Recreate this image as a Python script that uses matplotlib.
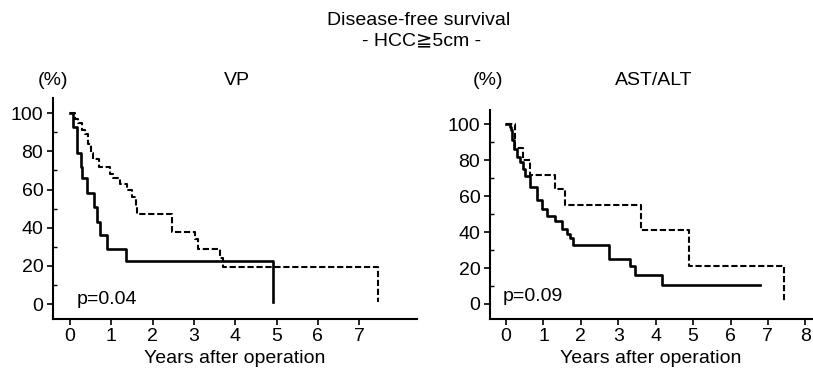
import matplotlib.pyplot as plt
from matplotlib.ticker import MultipleLocator

plt.rcParams['font.family'] = ['Liberation Sans', 'DejaVu Sans', 'Noto Sans CJK JP']

# VP panel
vp_solid_t = [0, 0.065, 0.16, 0.26, 0.28, 0.42, 0.58, 0.65, 0.73, 0.90, 1.36, 4.92]
vp_solid_s = [100, 93, 79, 72, 66, 58, 51, 43, 36, 29, 22.5, 1]
vp_dash_t = [0, 0.12, 0.20, 0.28, 0.36, 0.44, 0.50, 0.56, 0.71, 0.97, 1.05, 1.21,
             1.37, 1.49, 1.61, 1.63, 2.46, 3.03, 3.11, 3.63, 3.71, 7.45]
vp_dash_s = [100, 97, 95, 91, 89, 84, 79, 76, 72, 68, 66, 63,
             60, 56, 51, 47, 38, 34, 29, 24, 19.6, 1]

# AST/ALT panel
ast_solid_t = [0, 0.11, 0.14, 0.17, 0.22, 0.29, 0.37, 0.45, 0.51, 0.64, 0.82, 0.95,
               1.09, 1.31, 1.49, 1.62, 1.70, 1.78, 2.74, 3.31, 3.45, 4.16, 6.79]
ast_solid_s = [100, 98.6, 97, 91, 86, 82, 79, 75, 71, 65, 58, 53,
               49, 46, 42, 39, 36.5, 33, 25, 21, 16, 10.6, 10.6]
ast_dash_t = [0, 0.24, 0.45, 0.63, 1.31, 1.58, 3.61, 4.88, 7.43]
ast_dash_s = [100, 87, 80, 72, 64, 55, 41, 21, 1]

fig = plt.figure(figsize=(8.13, 3.8), dpi=100)

fs = 14


def style(ax, xmax_tick, xlim, ylim):
    ax.spines['top'].set_visible(False)
    ax.spines['right'].set_visible(False)
    ax.spines['left'].set_linewidth(1.5)
    ax.spines['bottom'].set_linewidth(1.5)
    ax.set_xlim(*xlim)
    ax.set_ylim(*ylim)
    ax.set_xticks(range(0, xmax_tick + 1))
    ax.set_yticks([0, 20, 40, 60, 80, 100])
    ax.yaxis.set_minor_locator(MultipleLocator(10))
    ax.tick_params(axis='both', which='major', direction='out', length=4, width=1.2,
                   labelsize=fs, pad=3)
    ax.tick_params(axis='y', which='minor', direction='in', length=3, width=1)
    ax.set_xlabel('Years after operation', fontsize=fs, labelpad=3)


ax1 = fig.add_axes([0.0652, 0.1613, 0.4477, 0.581])
ax1.step(vp_solid_t, vp_solid_s, where='post', color='black', lw=1.9)
ax1.step(vp_dash_t, vp_dash_s, where='post', color='black', lw=1.5, linestyle=(0, (3, 1.3)))
style(ax1, 7, (-0.41, 8.4), (-7.7, 108))
ax1.text(0.17, 2.5, 'p=0.04', fontsize=fs, ha='left', va='center')

ax2 = fig.add_axes([0.6027, 0.1613, 0.3957, 0.549])
ax2.step(ast_solid_t, ast_solid_s, where='post', color='black', lw=1.9)
ax2.step(ast_dash_t, ast_dash_s, where='post', color='black', lw=1.5, linestyle=(0, (3, 1.3)))
style(ax2, 8, (-0.43, 8.17), (-8.2, 107.9))
ax2.text(-0.09, 4, 'p=0.09', fontsize=fs, ha='left', va='center')

fig.text(0.515, 0.947, 'Disease-free survival', fontsize=fs, ha='center', va='center')
fig.text(0.519, 0.892, '- HCC\u22675cm -', fontsize=fs, ha='center', va='center')
fig.text(0.065, 0.789, '(%)', fontsize=fs, ha='center', va='center')
fig.text(0.2915, 0.789, 'VP', fontsize=fs, ha='center', va='center')
fig.text(0.600, 0.789, '(%)', fontsize=fs, ha='center', va='center')
fig.text(0.804, 0.789, 'AST/ALT', fontsize=fs, ha='center', va='center')

fig.savefig('out.png', dpi=100)
